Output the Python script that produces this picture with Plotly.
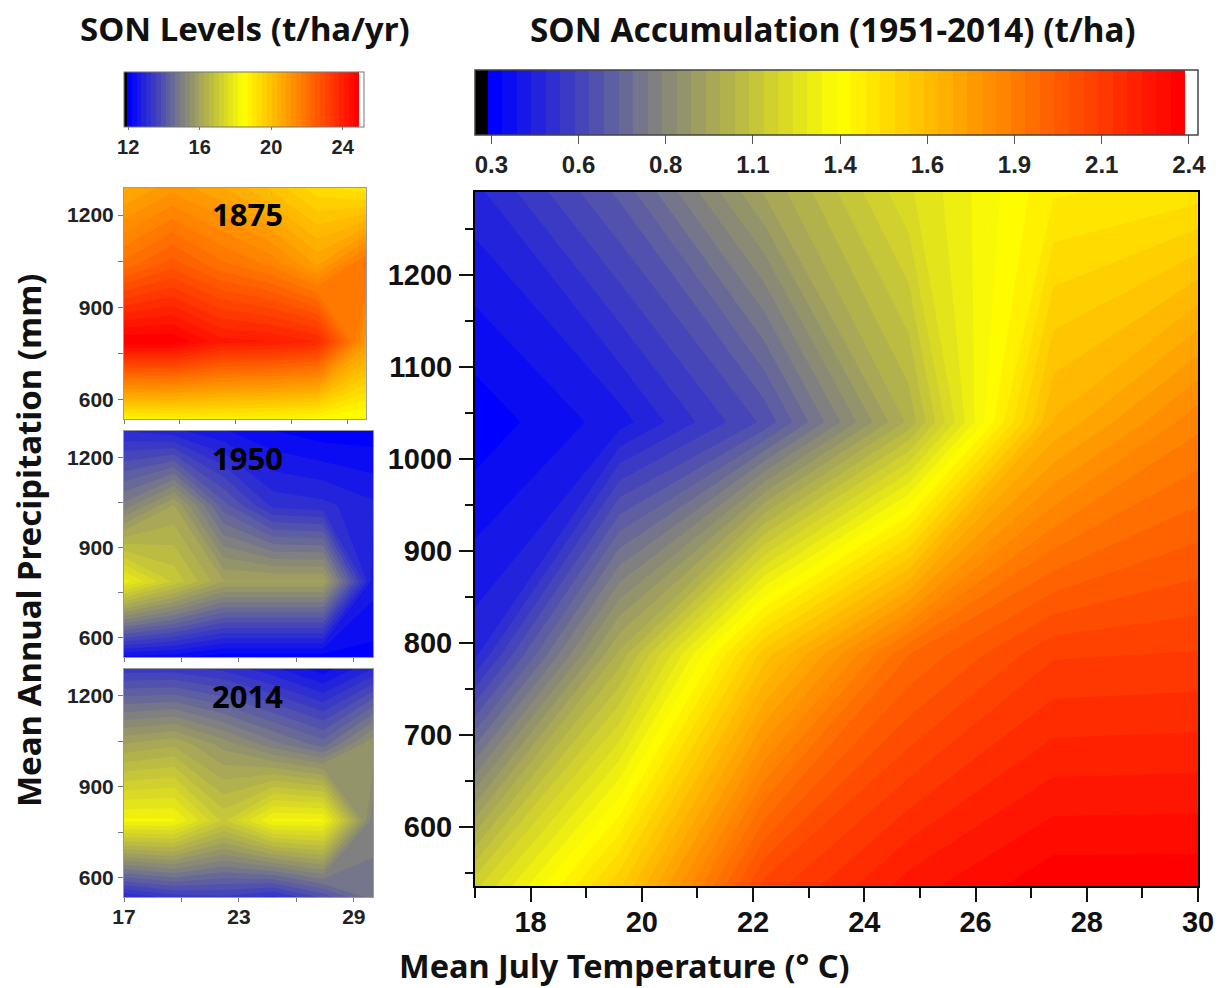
import plotly.graph_objects as go

temp = [17, 19.6, 22.2, 24.8, 27.4, 30]
precip = [536, 788, 1040, 1290]

main_z = [
    [1.15, 1.55, 2.10, 2.28, 2.38, 2.38],
    [0.45, 1.00, 1.58, 1.95, 2.12, 2.13],
    [0.302, 0.40, 0.605, 1.00, 1.65, 1.85],
    [0.45, 0.65, 0.95, 1.20, 1.42, 1.45],
]
z_1875 = [
    [18.7, 18.8, 18.8, 18.7, 18.6, 18.3],
    [24.88, 24.86, 24.2, 24.1, 23.8, 21.0],
    [22.0, 22.6, 22.0, 21.6, 20.8, 22.0],
    [20.5, 21.0, 20.6, 20.0, 19.3, 19.0],
]
z_1950 = [
    [12.4, 12.3, 12.03, 12.03, 12.03, 12.1],
    [18.0, 17.0, 16.0, 16.0, 16.0, 12.6],
    [15.0, 16.0, 14.2, 13.2, 13.1, 12.8],
    [13.0, 12.8, 12.5, 12.2, 12.03, 12.03],
]
z_2014 = [
    [13.0, 13.4, 13.5, 13.2, 13.9, 14.8],
    [18.2, 18.2, 17.0, 18.2, 18.2, 15.0],
    [16.0, 16.2, 15.6, 15.0, 14.5, 15.7],
    [13.4, 13.4, 13.2, 12.8, 12.3, 13.0],
]
panel_years = ["1875", "1950", "2014"]
main_bar_ticks = [0.3, 0.5625, 0.825, 1.0875, 1.35, 1.6125, 1.875, 2.1375, 2.4]
main_bar_labels = ["0.3", "0.6", "0.8", "1.1", "1.4", "1.6", "1.9", "2.1", "2.4"]
small_bar_ticks = [12, 16, 20, 24]

W, H = 1220, 988
TICK_FONT = "Liberation Sans"
TITLE_FONT = "Noto Sans"
BANDS = 48
FINE = 4  # drawn levels per colour band, so the black and white ends can be wider than half a level
RAMP = [(0, (0, 0, 255)), (0.233, (128, 128, 128)), (0.505, (255, 255, 0)), (1, (255, 0, 0))]


def ramp_colour(t):
    for (t0, c0), (t1, c1) in zip(RAMP, RAMP[1:]):
        if t <= t1:
            u = (t - t0) / (t1 - t0)
            return "rgb(%d,%d,%d)" % tuple(round(a + (b - a) * u) for a, b in zip(c0, c1))
    return "rgb(255,0,0)"


def level_setup(low, band, below, above):
    """Contour levels and a stepped colour scale: black below `low`, white above the last band."""
    fine = band / FINE
    start = low - below * fine
    end = low + BANDS * band + above * fine
    top = end + fine
    f = lambda v: (v - start) / (top - start)
    eps = 1e-7
    stops = [[0, "#000000"], [f(low) - eps, "#000000"]]
    for k in range(BANDS):
        colour = ramp_colour(k / (BANDS - 1))
        stops += [[f(low + k * band), colour], [f(low + (k + 1) * band) - eps, colour]]
    stops += [[f(low + BANDS * band), "#ffffff"], [1, "#ffffff"]]
    contours = dict(start=start, end=end + 1e-9, size=fine, coloring="fill", showlines=False)
    return contours, stops


def px_x(a, b):
    return [a / W, b / W]


def px_y(top, bottom):
    return [1 - bottom / H, 1 - top / H]


fig = go.Figure()

main_contours, main_scale = level_setup(0.3, 0.04375, 4, 2)
fig.add_trace(go.Contour(
    x=temp, y=precip, z=main_z, xaxis="x", yaxis="y",
    autocontour=False, contours=main_contours,
    line=dict(width=0, smoothing=0),
    colorscale=main_scale,
    colorbar=dict(
        orientation="h", xref="container", yref="container",
        x=475 / W, xanchor="left", y=1 - 70 / H, yanchor="top",
        len=723, lenmode="pixels", thickness=65, thicknessmode="pixels",
        xpad=0, ypad=0, outlinecolor="#444444", outlinewidth=1.5,
        tickmode="array", tickvals=main_bar_ticks, ticktext=main_bar_labels,
        ticks="outside", ticklen=9, tickwidth=1, tickcolor="#555555",
        tickfont=dict(family=TICK_FONT, size=24, color="#222222", weight=700),
    ),
    hoverinfo="skip",
))

small_contours, small_scale = level_setup(12.0, 0.27, 3, 3)
panels = [z_1875, z_1950, z_2014]
for i, z in enumerate(panels):
    n = str(i + 2)
    extra = dict(showscale=False)
    if i == 0:
        extra = dict(showscale=True, colorbar=dict(
            orientation="h", xref="container", yref="container",
            x=124 / W, xanchor="left", y=1 - 72 / H, yanchor="top",
            len=240, lenmode="pixels", thickness=55, thicknessmode="pixels",
            xpad=0, ypad=0, outlinecolor="#777777", outlinewidth=1,
            tickmode="array", tickvals=small_bar_ticks,
            ticks="outside", ticklen=3, tickwidth=1, tickcolor="#777777",
            tickfont=dict(family=TICK_FONT, size=20, color="#222222", weight=700),
        ))
    fig.add_trace(go.Contour(
        x=temp, y=precip, z=z, xaxis="x" + n, yaxis="y" + n,
        autocontour=False, contours=small_contours,
        line=dict(width=0, smoothing=0), colorscale=small_scale, hoverinfo="skip", **extra,
    ))

main_axis = dict(
    showgrid=False, zeroline=False, showline=True, linecolor="#000000", linewidth=2,
    mirror=True, ticks="outside", ticklen=14, tickwidth=2, tickcolor="#111111",
    tickfont=dict(family=TICK_FONT, size=29, color="#111111", weight=700),
)
fig.update_layout(
    width=W, height=H, margin=dict(l=0, r=0, t=0, b=0, autoexpand=False),
    paper_bgcolor="white", plot_bgcolor="white", showlegend=False,
    xaxis=dict(main_axis, domain=px_x(475, 1198), range=[17, 30], anchor="y", ticklabelstandoff=-5,
               tickmode="array", tickvals=[18, 20, 22, 24, 26, 28, 30],
               minor=dict(tickmode="array", tickvals=[17, 19, 21, 23, 25, 27, 29], ticks="outside",
                          ticklen=10, tickwidth=1.5, tickcolor="#111111", showgrid=False)),
    yaxis=dict(main_axis, domain=px_y(192, 886), range=[536, 1290], anchor="x", ticklabelstandoff=1,
               tickmode="array", tickvals=[600, 700, 800, 900, 1000, 1100, 1200],
               minor=dict(tickmode="array", tickvals=[550, 650, 750, 850, 950, 1050, 1150, 1250],
                          ticks="outside", ticklen=8, tickwidth=1.5, tickcolor="#111111", showgrid=False)),
)

boxes = [(124, 366, 188, 419), (124, 373, 431, 657), (124, 373, 669, 897)]
year_y = [215, 459, 697]
for i, (l, r, t, b) in enumerate(boxes):
    k = str(i + 2)
    common = dict(showgrid=False, zeroline=False, showline=True, linecolor="#9a9aa6", linewidth=1,
                  mirror=True, ticks="outside", tickcolor="#777777", tickwidth=1,
                  tickfont=dict(family=TICK_FONT, size=21, color="#222222", weight=700))
    last = i == 2
    fig.update_layout({
        "xaxis" + k: dict(common, domain=px_x(l, r), range=[17, 30], anchor="y" + k, ticklen=4,
                          ticklabelstandoff=-3,
                          tickmode="array", tickvals=[17, 20, 23, 26, 29],
                          ticktext=["17", "", "23", "", "29"] if last else [""] * 5),
        "yaxis" + k: dict(common, domain=px_y(t, b), range=[536, 1288], anchor="x" + k, ticklen=5,
                          tickmode="array", tickvals=[600, 750, 900, 1050, 1200],
                          ticktext=["600", "", "900", "", "1200"]),
    })
    fig.add_annotation(xref="paper", yref="paper", x=247 / W, y=1 - (year_y[i] - 1) / H, text=panel_years[i],
                       xanchor="center", yanchor="middle", showarrow=False,
                       font=dict(family=TITLE_FONT, size=31, color="#000000", weight=700))


def label(text, x, y, size, angle=0):
    fig.add_annotation(xref="paper", yref="paper", x=x / W, y=1 - y / H, text=text, showarrow=False,
                       textangle=angle, xanchor="center", yanchor="middle",
                       font=dict(family=TITLE_FONT, size=size, color="#111111", weight=700))


label("SON Levels (t/ha/yr)", 245, 29, 33)
label("SON Accumulation (1951-2014) (t/ha)", 833, 29, 33.3)
label("Mean July Temperature (° C)", 624, 965, 32.5)
label("Mean Annual Precipitation (mm)", 28, 540, 33, angle=-90)

fig.write_html("out.html", post_script="document.body.style.margin='0';",
               config={"displayModeBar": False})
